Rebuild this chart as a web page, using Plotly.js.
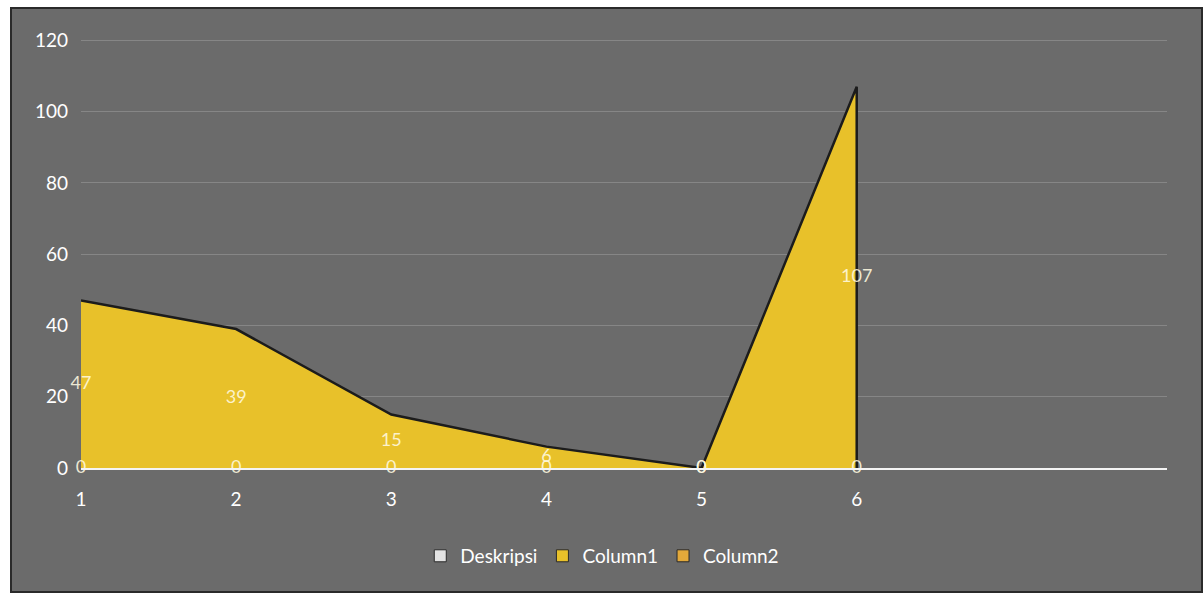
<!DOCTYPE html>
<html>
<head>
<meta charset="utf-8">
<script src="https://cdn.plot.ly/plotly-3.0.1.min.js"></script>
<style>
  html, body { margin: 0; padding: 0; background: #ffffff; width: 1204px; height: 593px; overflow: hidden; }
  #chart { position: absolute; left: 10px; top: 7px; width: 1189px; height: 582px; border: 2px solid #2a2a2a; }
</style>
</head>
<body>
<div id="chart"></div>
<script>
// ---- data ----
const categories = [1, 2, 3, 4, 5, 6];
const tickLabels = ["1", "2", "3", "4", "5", "6"];
const deskripsi = [0, 0, 0, 0, 0, 0];
const column1 = [47, 39, 15, 6, 0, 107];
const column2 = [];
const seriesNames = ["Deskripsi", "Column1", "Column2"];
const seriesColors = ["#e2e2e2", "#e8c12a", "#e3a93a"];
const xMax = 8;   // axis extends over two empty categories

const labelFont = { family: "Lato, 'Open Sans', sans-serif", size: 18, color: "rgba(255,250,225,0.88)" };

// area of Column1, closed with a vertical drop after the last value
const lastX = categories[categories.length - 1];
const areaX = categories.concat([lastX]);
const areaY = column1.concat([0]);

const traces = [
  {
    type: "scatter", mode: "lines", x: areaX, y: areaY,
    fill: "tozeroy", fillcolor: seriesColors[1],
    line: { color: "#1c1c1c", width: 2.5 },
    showlegend: false, hoverinfo: "skip"
  },
  {
    type: "scatter", mode: "text", x: categories, y: column1.map(v => v / 2),
    text: column1.map(String), textposition: "middle center",
    textfont: labelFont, showlegend: false, cliponaxis: false, hoverinfo: "skip"
  },
  {
    type: "scatter", mode: "text", x: categories, y: deskripsi,
    text: deskripsi.map(String), textposition: "middle center",
    textfont: labelFont, showlegend: false, cliponaxis: false, hoverinfo: "skip"
  }
];

// legend entries
[deskripsi, column1, column2].forEach((s, i) => {
  traces.push({
    type: "scatter", mode: "markers", x: [null], y: [null],
    name: seriesNames[i],
    marker: { symbol: "square", size: 12, color: seriesColors[i], line: { color: "#2a2a2a", width: 1 } },
    showlegend: true, hoverinfo: "skip"
  });
});

const layout = {
  width: 1189, height: 582,
  paper_bgcolor: "#6b6b6b",
  plot_bgcolor: "rgba(0,0,0,0)",
  margin: { l: 69, r: 34, t: 30, b: 123 },
  font: { family: "Lato, 'Open Sans', sans-serif", color: "#ffffff" },
  xaxis: {
    range: [1, xMax], tickmode: "array", tickvals: categories, ticktext: tickLabels,
    showgrid: false, zeroline: false, showline: true, linecolor: "#f4f4f4", linewidth: 2,
    ticks: "", tickfont: { size: 19, color: "#ffffff" }, ticklabelstandoff: 13, fixedrange: true
  },
  yaxis: {
    range: [0, 120.4], tickmode: "linear", tick0: 0, dtick: 20,
    showgrid: true, gridcolor: "rgba(205,205,205,0.28)", gridwidth: 1,
    zeroline: false, showline: false, ticks: "",
    tickfont: { size: 19, color: "#ffffff" }, ticklabelstandoff: 12, fixedrange: true
  },
  showlegend: true,
  legend: {
    orientation: "h", x: 0.48, xanchor: "center", y: -0.205, yanchor: "middle",
    font: { size: 19, color: "#ffffff" }, bgcolor: "rgba(0,0,0,0)",
    itemwidth: 30, tracegroupgap: 0
  }
};

Plotly.newPlot("chart", traces, layout, { displayModeBar: false, staticPlot: true });
</script>
</body>
</html>
